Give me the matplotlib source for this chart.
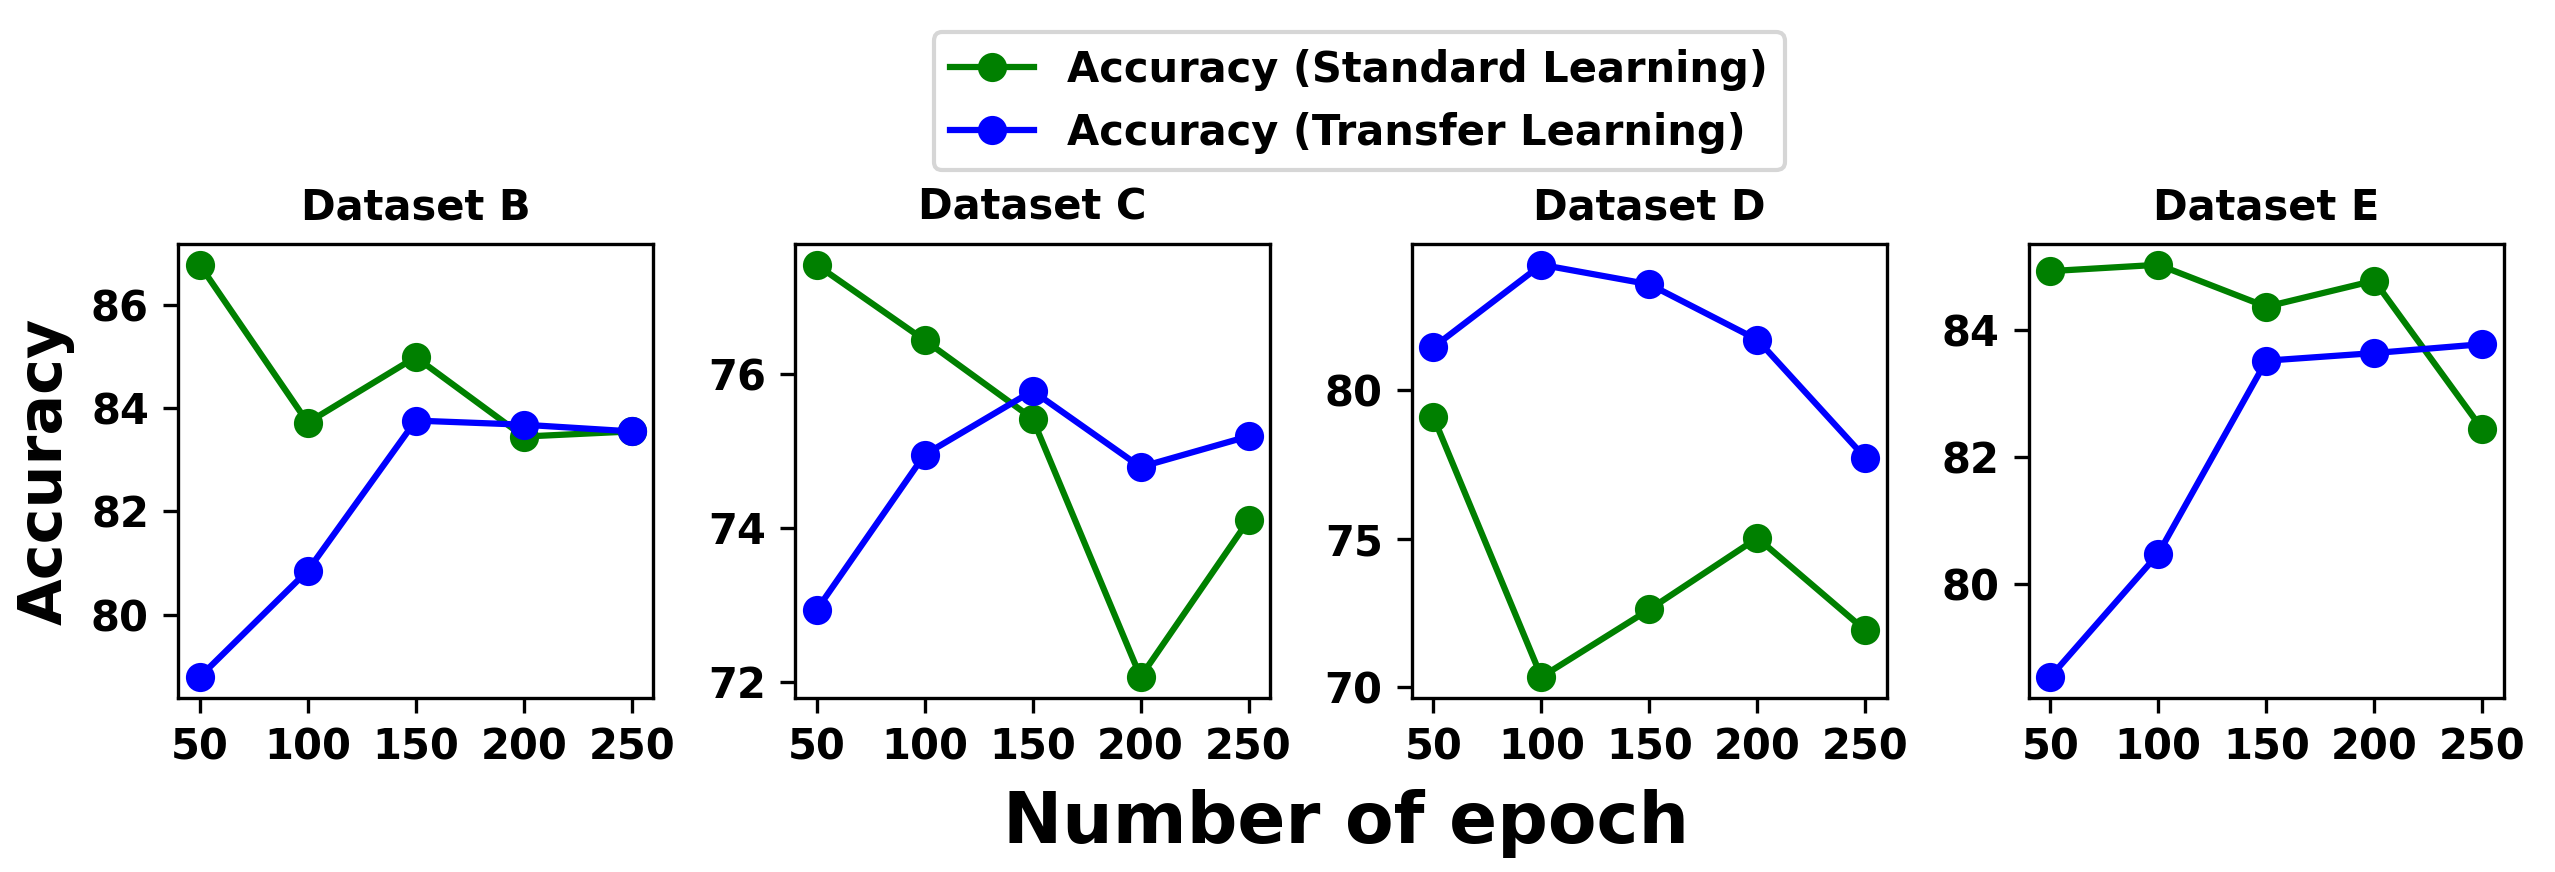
import numpy as np
import matplotlib
matplotlib.use("Agg")
import matplotlib.pyplot as plt

epochs = [50, 100, 150, 200, 250]
datasets = ["Dataset B", "Dataset C", "Dataset D", "Dataset E"]

# accuracy, one list per dataset
standard_acc = [
    [86.78, 83.72, 84.99, 83.45, 83.55],
    [77.42, 76.44, 75.42, 72.06, 74.10],
    [79.10, 70.33, 72.61, 75.02, 71.90],
    [84.92, 85.02, 84.36, 84.77, 82.43],
]
transfer_acc = [
    [78.79, 80.85, 83.76, 83.68, 83.55],
    [72.93, 74.95, 75.78, 74.79, 75.19],
    [81.46, 84.24, 83.58, 81.71, 77.72],
    [78.53, 80.47, 83.51, 83.63, 83.77],
]

plt.rcParams['font.weight'] = 'bold'

fig, axes = plt.subplots(1, 4, figsize=(2555 / 300, 872 / 300), dpi=300)
fig.subplots_adjust(left=0.0697, right=0.980, bottom=0.20, top=0.72, wspace=0.298)

for ax, name, std, tr in zip(axes, datasets, standard_acc, transfer_acc):
    ax.plot(epochs, std, marker='o', color='green', label='Accuracy (Standard Learning)')
    ax.plot(epochs, tr, marker='o', color='blue', label='Accuracy (Transfer Learning)')
    ax.set_title(name, fontsize=10, fontweight='bold')
    ax.set_xticks(epochs)
    ax.tick_params(labelsize=10)
    for lbl in ax.get_xticklabels() + ax.get_yticklabels():
        lbl.set_fontweight('bold')

axes[0].set_ylabel('Accuracy', fontsize=14.5, fontweight='bold')
fig.text(0.527, 0.056, 'Number of epoch', ha='center', va='center',
         fontsize=17, fontweight='bold')

handles, labels = axes[0].get_legend_handles_labels()
fig.legend(handles, labels, loc='upper center', bbox_to_anchor=(0.532, 0.987),
           ncol=1, prop={'size': 10, 'weight': 'bold'})

fig.savefig('out.png', dpi=300)
